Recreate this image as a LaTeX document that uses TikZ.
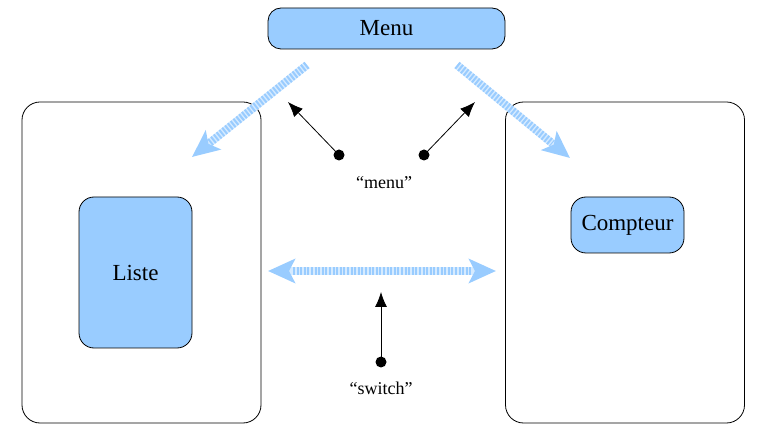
\documentclass[tikz,border=0pt]{standalone}
\usepackage{fontspec}
\setmainfont{Liberation Serif}
\usetikzlibrary{arrows.meta}
\definecolor{boxblue}{HTML}{99CCFF}
\definecolor{stripelight}{HTML}{D6EBFF}
\tikzset{bighead/.tip={Stealth[length=27pt,width=24pt,inset=6pt,color=boxblue]}}
\begin{document}
\begin{tikzpicture}[x=1pt,y=-1pt,
  bigbox/.style={draw, line width=0.8pt, rounded corners=18pt, minimum width=239pt, minimum height=321pt, inner sep=0pt},
  bluebox/.style={draw, fill=boxblue, line width=0.8pt, inner sep=0pt, font=\fontsize{23}{27}\selectfont},
  lbl/.style={font=\fontsize{18}{21}\selectfont},
  dot/.style={circle, fill=black, inner sep=0pt, minimum size=11pt},
  pointer/.style={line width=0.8pt, -{Latex[length=15pt,width=12pt]}},
  fatbase/.style={line width=8pt, draw=stripelight},
  fattop/.style={line width=8pt, draw=boxblue, dash pattern=on 2pt off 1.6pt}]
\useasboundingbox (0,0) rectangle (766,438);
\node[bigbox] (left) at (141.5,262.5) {};
\node[bigbox] (right) at (625,262.5) {};
\node[bluebox, rounded corners=13pt, minimum width=237pt, minimum height=41pt] (menu) at (386.5,28.5) {Menu};
\node[bluebox, rounded corners=15pt, minimum width=113pt, minimum height=151pt] (liste) at (135.5,272.5) {Liste};
\node[bluebox, rounded corners=15pt, minimum width=113pt, minimum height=56pt] (compteur) at (627.5,225) {Compteur};
\coordinate (l0) at (307,65);
\coordinate (l1) at (192,157);
\coordinate (r0) at (457,65);
\coordinate (r1) at (570,158);
\coordinate (h0) at (268,271);
\coordinate (h1) at (496,271);
\draw[fatbase, -bighead] (l0) -- (l1);
\draw[fattop, shorten >=23pt] (l0) -- (l1);
\draw[fatbase, -bighead] (r0) -- (r1);
\draw[fattop, shorten >=23pt] (r0) -- (r1);
\draw[fatbase, bighead-bighead] (h0) -- (h1);
\draw[fattop, shorten >=25pt, shorten <=25pt] (h0) -- (h1);
\node[dot] (d1) at (339,155) {};
\node[dot] (d2) at (424,155) {};
\node[dot] (d3) at (381,362) {};
\coordinate (t1) at (288,102);
\coordinate (t2) at (475,102);
\coordinate (t3) at (381,292);
\draw[pointer] (d1.center) -- (t1);
\draw[pointer] (d2.center) -- (t2);
\draw[pointer] (d3.center) -- (t3);
\node[lbl] (menulbl) at (384,183) {“menu”};
\node[lbl] (switchlbl) at (381,388) {“switch”};
\end{tikzpicture}
\end{document}
